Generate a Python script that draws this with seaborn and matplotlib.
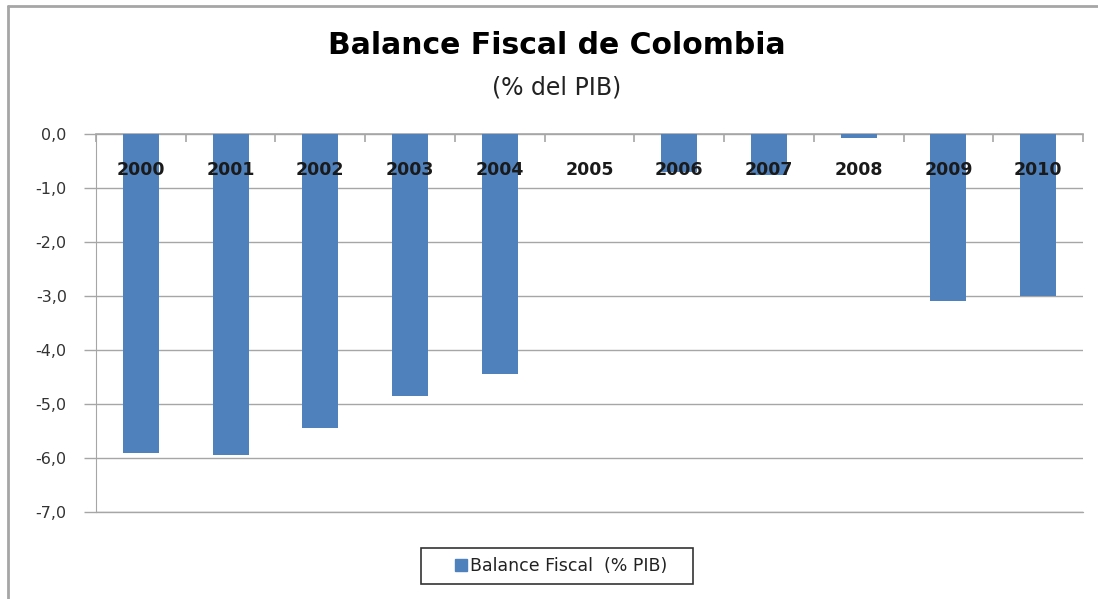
import numpy as np
import pandas as pd
import matplotlib
matplotlib.use("Agg")
import matplotlib.pyplot as plt
from matplotlib.lines import Line2D
import seaborn as sns

years = ["2000", "2001", "2002", "2003", "2004", "2005",
         "2006", "2007", "2008", "2009", "2010"]
balance = [-5.9, -5.95, -5.45, -4.85, -4.45, 0.0,
           -0.7, -0.75, -0.08, -3.1, -3.0]
yticks = [0, -1, -2, -3, -4, -5, -6, -7]

BAR = "#4F81BD"
GRID = "#A6A6A6"

df = pd.DataFrame({"year": years, "balance": balance})

sns.set_style("white")
plt.rcParams["font.family"] = ["DejaVu Sans"]

fig = plt.figure(figsize=(10.98, 5.99), dpi=100)
ax = fig.add_axes([96 / 1098, 1 - 512 / 599, (1083 - 96) / 1098, (512 - 134) / 599])

sns.barplot(data=df, x="year", y="balance", color=BAR, width=0.4,
            saturation=1, ax=ax, zorder=3, edgecolor="none", linewidth=0)

ax.set_ylim(-7, 0)
ax.set_xlim(-0.5, len(years) - 0.5)
ax.set_yticks(yticks)
ax.set_yticklabels([f"{v:.1f}".replace(".", ",") for v in yticks],
                   fontsize=11.5, color="#333333")
ax.yaxis.grid(True, color=GRID, linewidth=1, zorder=0)
ax.axhline(-7, color=GRID, linewidth=1, clip_on=False, zorder=0)
ax.set_xlabel("")
ax.set_ylabel("")

for s in ["right", "bottom"]:
    ax.spines[s].set_visible(False)
ax.spines["left"].set_color(GRID)
ax.spines["top"].set_color(GRID)
ax.spines["top"].set_linewidth(1.2)
ax.tick_params(axis="y", length=9, color=GRID, width=1, pad=12, left=True)

# category axis sits at zero (top); labels drawn inside the plot
ax.xaxis.tick_top()
ax.set_xticks(np.arange(len(years) + 1) - 0.5, minor=True)
ax.tick_params(axis="x", which="minor", direction="in", length=6,
               color=GRID, width=1.2, top=True)
ax.tick_params(axis="x", which="major", length=0, top=False, labeltop=False)
for i, y in enumerate(years):
    ax.text(i, -0.66, y, ha="center", va="center", fontsize=12.5,
            fontweight="bold", color="#1a1a1a", zorder=5)

fig.text(557 / 1098, 1 - 46 / 599, "Balance Fiscal de Colombia", ha="center",
         va="center", fontsize=21.5, fontweight="bold", color="black")
fig.text(557 / 1098, 1 - 88 / 599, "(% del PIB)", ha="center", va="center",
         fontsize=17, color="#222222")

handles = [Line2D([], [], marker="s", linestyle="none", markersize=8,
                  color=BAR)]
leg = fig.legend(handles, ["Balance Fiscal  (% PIB)   "], loc="center",
                 bbox_to_anchor=(557 / 1098, 1 - 566 / 599), frameon=True,
                 fancybox=False, handlelength=3.5, handletextpad=-1.2,
                 borderpad=0.5, prop={"family": "DejaVu Sans", "size": 12.5})
leg.get_frame().set_edgecolor("black")
leg.get_frame().set_linewidth(1.2)
for t in leg.get_texts():
    t.set_color("#222222")

# outer chart border (left and top only visible)
fig.add_artist(Line2D([8 / 1098, 8 / 1098], [0, 1 - 6 / 599],
                      transform=fig.transFigure, color=GRID, lw=2))
fig.add_artist(Line2D([8 / 1098, 1], [1 - 6 / 599, 1 - 6 / 599],
                      transform=fig.transFigure, color=GRID, lw=2))

fig.savefig("out.png", dpi=100)
